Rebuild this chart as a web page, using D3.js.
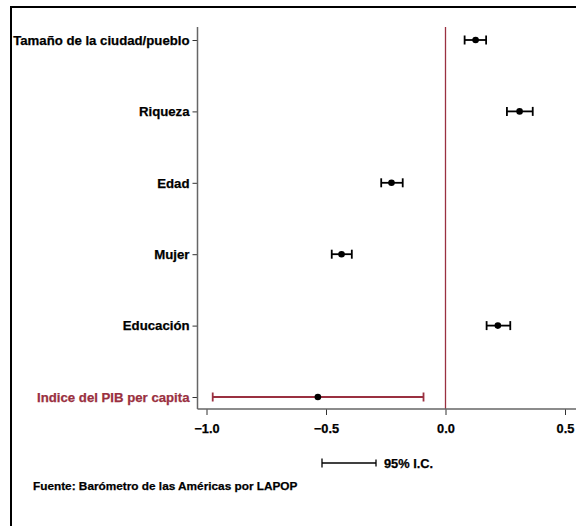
<!DOCTYPE html>
<html>
<head>
<meta charset="utf-8">
<script src="https://cdn.jsdelivr.net/npm/d3@7"></script>
<style>
  body { margin: 0; background: #fff; }
  svg text { font-family: "Liberation Sans", Arial, sans-serif; font-weight: bold; }
</style>
</head>
<body>
<svg width="576" height="526"></svg>
<script>
// coefficient estimates and 95% confidence intervals
var categories = ["Tamaño de la ciudad/pueblo", "Riqueza", "Edad", "Mujer", "Educación", "Indice del PIB per capita"];
var estimates = [0.126, 0.31, -0.226, -0.435, 0.219, -0.534];
var lower = [0.08, 0.257, -0.269, -0.476, 0.172, -0.974];
var upper = [0.17, 0.365, -0.179, -0.392, 0.271, -0.092];
var xTicks = [-1.0, -0.5, 0.0, 0.5];
var highlight = "Indice del PIB per capita";

var red = "#9a3040";
var svg = d3.select("svg");

var data = categories.map(function (c, i) {
  return { name: c, est: estimates[i], lo: lower[i], hi: upper[i] };
});

// outer frame, runs off the right and bottom edges
svg.append("rect")
  .attr("x", 11).attr("y", 7)
  .attr("width", 600).attr("height", 560)
  .attr("fill", "none")
  .attr("stroke", "#000")
  .attr("stroke-width", 2);

var x = d3.scaleLinear().domain([-1, 0.5]).range([206.5, 565]);
var y = d3.scalePoint().domain(categories).range([40, 397]);

var axisLeftX = 197.5, axisBottomY = 409;

// reference line at zero
svg.append("line")
  .attr("x1", x(0)).attr("x2", x(0))
  .attr("y1", 27).attr("y2", axisBottomY)
  .attr("stroke", red).attr("stroke-width", 1.3);

// y axis
var gy = svg.append("g")
  .attr("transform", "translate(" + axisLeftX + ",0)")
  .call(d3.axisLeft(y).tickSize(5).tickPadding(3));
gy.select(".domain").remove();
gy.append("line")
  .attr("x1", 0).attr("x2", 0).attr("y1", 27).attr("y2", axisBottomY)
  .attr("stroke", "#666").attr("stroke-width", 1.5);
gy.selectAll(".tick line").attr("stroke", "#333");
gy.selectAll(".tick text")
  .attr("font-size", 13.2)
  .attr("fill", function (d) { return d === highlight ? red : "#000"; })
  .attr("stroke", function (d) { return d === highlight ? red : "#000"; })
  .attr("stroke-width", 0.25)
  .style("font-family", "'Liberation Sans', Arial, sans-serif")
  .style("font-weight", "bold");

// x axis
var gx = svg.append("g")
  .attr("transform", "translate(0," + axisBottomY + ")")
  .call(d3.axisBottom(x).tickValues(xTicks).tickFormat(d3.format(".1f")).tickSize(6).tickPadding(9));
gx.select(".domain").remove();
gx.append("line")
  .attr("x1", axisLeftX).attr("x2", 576).attr("y1", 0).attr("y2", 0)
  .attr("stroke", "#666").attr("stroke-width", 1.5);
gx.selectAll(".tick line").attr("stroke", "#333");
gx.selectAll(".tick text")
  .attr("font-size", 12.8)
  .attr("fill", "#000")
  .attr("stroke", "#000")
  .attr("stroke-width", 0.25)
  .style("font-family", "'Liberation Sans', Arial, sans-serif")
  .style("font-weight", "bold");

// error bars
var bars = svg.append("g").selectAll("g")
  .data(data)
  .enter().append("g")
  .attr("stroke", function (d) { return d.name === highlight ? red : "#000"; })
  .attr("stroke-width", 1.8);

bars.append("line")
  .attr("x1", function (d) { return x(d.lo); })
  .attr("x2", function (d) { return x(d.hi); })
  .attr("y1", function (d) { return y(d.name); })
  .attr("y2", function (d) { return y(d.name); });

bars.append("line")
  .attr("x1", function (d) { return x(d.lo); })
  .attr("x2", function (d) { return x(d.lo); })
  .attr("y1", function (d) { return y(d.name) - 4.5; })
  .attr("y2", function (d) { return y(d.name) + 4.5; });

bars.append("line")
  .attr("x1", function (d) { return x(d.hi); })
  .attr("x2", function (d) { return x(d.hi); })
  .attr("y1", function (d) { return y(d.name) - 4.5; })
  .attr("y2", function (d) { return y(d.name) + 4.5; });

svg.append("g").selectAll("circle")
  .data(data)
  .enter().append("circle")
  .attr("cx", function (d) { return x(d.est); })
  .attr("cy", function (d) { return y(d.name); })
  .attr("r", 3.3)
  .attr("fill", "#000");

// legend
var legend = svg.append("g").attr("stroke", "#000").attr("stroke-width", 1.3);
legend.append("line").attr("x1", 322).attr("x2", 376).attr("y1", 463).attr("y2", 463);
legend.append("line").attr("x1", 322).attr("x2", 322).attr("y1", 458.5).attr("y2", 467.5);
legend.append("line").attr("x1", 376).attr("x2", 376).attr("y1", 459.5).attr("y2", 466.5);
svg.append("text")
  .attr("x", 384).attr("y", 467.5)
  .attr("font-size", 12.8)
  .attr("stroke", "#000").attr("stroke-width", 0.25)
  .text("95% I.C.");

svg.append("text")
  .attr("x", 33).attr("y", 489.5)
  .attr("font-size", 11.8)
  .attr("stroke", "#000").attr("stroke-width", 0.25)
  .text("Fuente: Barómetro de las Américas por LAPOP");
</script>
</body>
</html>
